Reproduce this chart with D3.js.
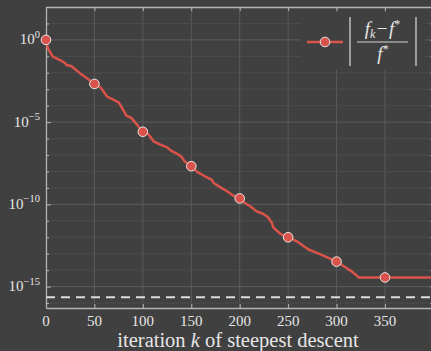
<!DOCTYPE html>
<html><head><meta charset="utf-8">
<script src="https://cdn.jsdelivr.net/npm/d3@7"></script>
<style>html,body{margin:0;padding:0;background:#404040;}svg{display:block;}</style>
</head><body>
<script>
const iterK = [0,2,7,16,20,21,26,30,35,42,50,57,63,68,75,78,83,88,94,100,106,111,118,125,130,135,140,143,150,156,164,171,173,181,187,193,200,205,212,217,224,229,233,235,242,250,259,271,281,291,300,307,316,323,350,400];
const relErr = [1,3.1e-1,9.7e-2,5.3e-2,3.8e-2,3.0e-2,2.6e-2,1.66e-2,9.5e-3,4.8e-3,2.1e-3,1.17e-3,3.6e-4,2.6e-4,1.6e-4,8.3e-5,2.5e-5,1.8e-5,7e-6,2.6e-6,1.75e-6,6.8e-7,4.3e-7,2.9e-7,1.7e-7,1.23e-7,7.7e-8,4.2e-8,2.1e-8,9.5e-9,5.1e-9,3.2e-9,2.0e-9,1.0e-9,6.3e-10,3.5e-10,2.3e-10,1.26e-10,6.9e-11,3.9e-11,2.7e-11,1.7e-11,7.8e-12,3.8e-12,1.6e-12,1.0e-12,5.7e-13,1.8e-13,1.05e-13,5.8e-14,3.3e-14,1.8e-14,8.1e-15,3.6e-15,3.6e-15,3.6e-15];
const markerK = [0,50,100,150,200,250,300,350];
const xTicks = [0,50,100,150,200,250,300,350];
const yMajorExp = [0,-5,-10,-15];
const yMinorExp = [2,1,0,-1,-2,-3,-4,-5,-6,-7,-8,-9,-10,-11,-12,-13,-14,-15,-16];
const machineEps = 2.22e-16;
const xLabel = ["iteration ", "k", " of steepest descent"];

(function () {
const W = 431, H = 351;
const bg = "#404040", fg = "#e6e6e6", axisCol = "#b4b4b4", red = "#d9534a";
const serif = "'Liberation Serif', 'DejaVu Serif', serif";
const mL = 46, mT = 7, mB = 308, mR = 433.4;

const svg = d3.select("body").append("svg").attr("width", W).attr("height", H);
svg.append("rect").attr("width", W).attr("height", H).attr("fill", bg);

const x = d3.scaleLinear().domain([0, 400]).range([mL, mR]);
const y = d3.scaleLog().domain([5e-17, 1e2]).range([mB, mT]);

// grid
const grid = svg.append("g");
grid.selectAll("line.v").data(xTicks.slice(1)).join("line")
  .attr("x1", d => x(d)).attr("x2", d => x(d)).attr("y1", mT).attr("y2", mB)
  .attr("stroke", "#5a5a5a").attr("stroke-width", 1);
grid.selectAll("line.h").data(yMinorExp).join("line")
  .attr("x1", mL).attr("x2", mR).attr("y1", d => y(Math.pow(10, d))).attr("y2", d => y(Math.pow(10, d)))
  .attr("stroke", d => yMajorExp.includes(d) ? "#5c5c5c" : "#4c4c4c").attr("stroke-width", 1);

// axes with inward ticks
const yVals = yMinorExp.map(e => Math.pow(10, e));
const gL = svg.append("g").attr("transform", `translate(${mL},0)`)
  .call(d3.axisLeft(y).tickValues(yVals).tickFormat("").tickSizeInner(-3).tickSizeOuter(0));
const gB = svg.append("g").attr("transform", `translate(0,${mB})`)
  .call(d3.axisBottom(x).tickValues(xTicks).tickFormat("").tickSizeInner(-4).tickSizeOuter(0));
const gT = svg.append("g").attr("transform", `translate(0,${mT})`)
  .call(d3.axisTop(x).tickValues(xTicks).tickFormat("").tickSizeInner(-4).tickSizeOuter(0));
const gR = svg.append("g").attr("transform", `translate(${mR},0)`)
  .call(d3.axisRight(y).tickValues(yVals).tickFormat("").tickSizeInner(-3).tickSizeOuter(0));
[gL, gB, gT, gR].forEach(g => {
  g.selectAll("path.domain").attr("stroke", axisCol).attr("stroke-width", 1.3);
  g.selectAll(".tick line").attr("stroke", axisCol).attr("stroke-width", 1);
});
gL.selectAll(".tick line").attr("x2", d => yMajorExp.includes(Math.round(Math.log10(d))) ? 5 : 3);

// x tick labels
svg.append("g").selectAll("text").data(xTicks).join("text")
  .attr("x", d => x(d)).attr("y", mB + 18).attr("text-anchor", "middle")
  .attr("font-family", serif).attr("font-size", 15).attr("fill", fg).text(d => d);

// y tick labels
const yl = svg.append("g").selectAll("text").data(yMajorExp).join("text")
  .attr("x", mL - 6).attr("y", d => y(Math.pow(10, d)) + 4.5).attr("text-anchor", "end")
  .attr("font-family", serif).attr("font-size", 15).attr("fill", fg);
yl.append("tspan").text("10");
yl.append("tspan").attr("dy", -6.5).attr("font-size", 10.5).text(d => d === 0 ? "0" : "\u2212" + (-d));

// x label
const xl = svg.append("text").attr("x", (mL + 431) / 2 - 0.5).attr("y", 347).attr("text-anchor", "middle")
  .attr("font-family", serif).attr("font-size", 20.5).attr("fill", fg);
xl.append("tspan").text(xLabel[0]);
xl.append("tspan").attr("font-style", "italic").text(xLabel[1]);
xl.append("tspan").text(xLabel[2]);

// clip
svg.append("clipPath").attr("id", "clip").append("rect")
  .attr("x", mL).attr("y", mT).attr("width", mR - mL).attr("height", mB - mT);
const plot = svg.append("g").attr("clip-path", "url(#clip)");

// machine epsilon
plot.append("line").attr("x1", mL).attr("x2", mR).attr("y1", y(machineEps)).attr("y2", y(machineEps))
  .attr("stroke", "#dcdcdc").attr("stroke-width", 2).attr("stroke-dasharray", "9,6");

// line
const data = iterK.map((k, i) => ({k, v: relErr[i]}));
plot.append("path").datum(data)
  .attr("d", d3.line().x(d => x(d.k)).y(d => y(d.v)))
  .attr("fill", "none").attr("stroke", red).attr("stroke-width", 2.5).attr("stroke-linejoin", "round");

// markers
const lookup = k => relErr[iterK.indexOf(k)];
svg.append("g").selectAll("circle").data(markerK).join("circle")
  .attr("cx", d => x(d)).attr("cy", d => y(lookup(d))).attr("r", 4.8)
  .attr("fill", red).attr("stroke", "#e8e8e8").attr("stroke-width", 1);

// legend
const lg = svg.append("g");
lg.append("rect").attr("x", 301).attr("y", 12).attr("width", 124).attr("height", 58).attr("fill", bg);
lg.append("line").attr("x1", 307).attr("x2", 343).attr("y1", 42).attr("y2", 42)
  .attr("stroke", red).attr("stroke-width", 2.5);
lg.append("circle").attr("cx", 325).attr("cy", 42).attr("r", 4.8)
  .attr("fill", red).attr("stroke", "#e8e8e8").attr("stroke-width", 1);
lg.append("line").attr("x1", 350).attr("x2", 350).attr("y1", 17).attr("y2", 66).attr("stroke", "#cfcfcf").attr("stroke-width", 1.3);
lg.append("line").attr("x1", 416).attr("x2", 416).attr("y1", 17).attr("y2", 66).attr("stroke", "#cfcfcf").attr("stroke-width", 1.3);
lg.append("line").attr("x1", 357).attr("x2", 408).attr("y1", 42).attr("y2", 42).attr("stroke", "#d6d6d6").attr("stroke-width", 1.2);
const num = lg.append("text").attr("x", 382.5).attr("y", 35).attr("text-anchor", "middle")
  .attr("font-family", serif).attr("font-size", 19).attr("fill", fg);
num.append("tspan").attr("font-style", "italic").text("f");
num.append("tspan").attr("font-style", "italic").attr("font-size", 12).attr("dy", 3).text("k");
num.append("tspan").attr("dy", -3).attr("dx", 1.5).text("\u2212");
num.append("tspan").attr("font-style", "italic").attr("dx", 1.5).text("f");
num.append("tspan").attr("font-size", 12).attr("dy", -7).text("*");
const den = lg.append("text").attr("x", 383).attr("y", 60).attr("text-anchor", "middle")
  .attr("font-family", serif).attr("font-size", 19).attr("fill", fg);
den.append("tspan").attr("font-style", "italic").text("f");
den.append("tspan").attr("font-size", 12).attr("dy", -7).text("*");
})();
</script>
</body></html>
